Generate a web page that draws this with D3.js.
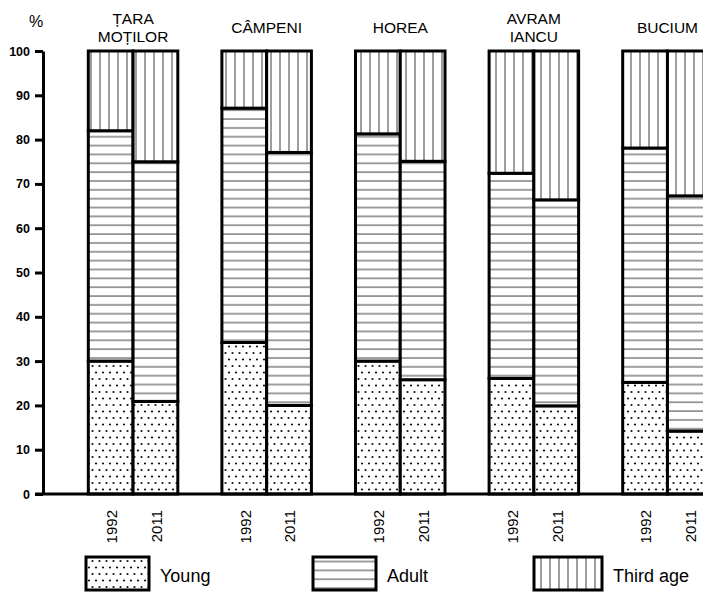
<!DOCTYPE html>
<html>
<head>
<meta charset="utf-8">
<script src="https://cdn.jsdelivr.net/npm/d3@7"></script>
<style>
  html, body { margin: 0; padding: 0; background: #fff; }
  svg { display: block; font-family: "Liberation Sans", Arial, sans-serif; }
</style>
</head>
<body>
<svg id="chart" width="703" height="592"></svg>
<script>
// ---- data ----
const categories = ["ȚARA MOȚILOR", "CÂMPENI", "HOREA", "AVRAM IANCU", "BUCIUM"];
const categoryLines = [["ȚARA", "MOȚILOR"], ["CÂMPENI"], ["HOREA"], ["AVRAM", "IANCU"], ["BUCIUM"]];
const years = ["1992", "2011"];
const young1992 = [30, 34.2, 30, 26.1, 25.2];
const adult1992 = [52, 52.9, 51.3, 46.3, 52.9];
const third1992 = [18, 12.9, 18.7, 27.6, 21.9];
const young2011 = [20.9, 20, 25.8, 19.9, 14.2];
const adult2011 = [54.1, 57.1, 49.3, 46.5, 53.1];
const third2011 = [25, 22.9, 24.9, 33.6, 32.7];
const groups = ["Young", "Adult", "Third age"];
const yTicks = [0, 10, 20, 30, 40, 50, 60, 70, 80, 90, 100];

// ---- build table ----
const rows = [];
categories.forEach((c, i) => {
  rows.push({cat: c, year: "1992", Young: young1992[i], Adult: adult1992[i], "Third age": third1992[i]});
  rows.push({cat: c, year: "2011", Young: young2011[i], Adult: adult2011[i], "Third age": third2011[i]});
});

const svg = d3.select("#chart");
const defs = svg.append("defs");

// patterns
const pDots = defs.append("pattern").attr("id", "pYoung").attr("patternUnits", "userSpaceOnUse")
  .attr("width", 7).attr("height", 13);
pDots.append("rect").attr("width", 7).attr("height", 13).attr("fill", "#fff");
pDots.append("circle").attr("cx", 1.5).attr("cy", 2).attr("r", 1.1).attr("fill", "#111");
pDots.append("circle").attr("cx", 5).attr("cy", 8.5).attr("r", 1.1).attr("fill", "#111");

const pH = defs.append("pattern").attr("id", "pAdult").attr("patternUnits", "userSpaceOnUse")
  .attr("width", 10).attr("height", 8.85);
pH.append("rect").attr("width", 10).attr("height", 8.85).attr("fill", "#fff");
pH.append("line").attr("x1", 0).attr("x2", 10).attr("y1", 4).attr("y2", 4)
  .attr("stroke", "#6a6a6a").attr("stroke-width", 1.3);

const pV = defs.append("pattern").attr("id", "pThird").attr("patternUnits", "userSpaceOnUse")
  .attr("width", 9).attr("height", 10);
pV.append("rect").attr("width", 9).attr("height", 10).attr("fill", "#fff");
pV.append("line").attr("y1", 0).attr("y2", 10).attr("x1", 1).attr("x2", 1)
  .attr("stroke", "#6a6a6a").attr("stroke-width", 1.3);

const fills = {"Young": "url(#pYoung)", "Adult": "url(#pAdult)", "Third age": "url(#pThird)"};

// scales
const x0 = d3.scaleBand().domain(categories).range([88.3, 88.3 + 133.6 * (5 - 0.33)])
  .paddingInner(0.33).paddingOuter(0);
const x1 = d3.scaleBand().domain(years).range([0, x0.bandwidth()]).padding(0);
const y = d3.scaleLinear().domain([0, 100]).range([494, 51]);

const stack = d3.stack().keys(groups);
const series = stack(rows);

// bars
const g = svg.append("g");
series.forEach(s => {
  g.selectAll(null).data(s).join("rect")
    .attr("x", d => x0(d.data.cat) + x1(d.data.year))
    .attr("y", d => y(d[1]))
    .attr("width", x1.bandwidth())
    .attr("height", d => y(d[0]) - y(d[1]))
    .attr("fill", fills[s.key])
    .attr("stroke", "#000")
    .attr("stroke-width", 3);
});

// baseline
svg.append("line").attr("x1", 35).attr("x2", 703).attr("y1", y(0)).attr("y2", y(0))
  .attr("stroke", "#000").attr("stroke-width", 3);

// y axis
const yAxis = d3.axisLeft(y).tickValues(yTicks).tickSize(8).tickSizeOuter(0).tickPadding(5);
const ag = svg.append("g").attr("transform", "translate(43,0)").call(yAxis);
ag.select(".domain").attr("stroke", "#000").attr("stroke-width", 3);
ag.selectAll(".tick line").attr("stroke", "#000").attr("stroke-width", 3);
ag.selectAll(".tick text").attr("font-size", 12.5).attr("font-weight", "bold")
  .attr("fill", "#000").attr("font-family", "Liberation Sans, Arial, sans-serif");

// % label
svg.append("text").attr("x", 36).attr("y", 27).attr("text-anchor", "middle")
  .attr("font-size", 16).attr("fill", "#000").text("%");

// category labels
categories.forEach((c, i) => {
  const lines = categoryLines[i];
  const cx = x0(c) + x0.bandwidth() / 2;
  const t = svg.append("text").attr("text-anchor", "middle").attr("font-size", 15.5).attr("fill", "#000");
  if (lines.length === 1) {
    t.append("tspan").attr("x", cx).attr("y", 33).text(lines[0]);
  } else {
    lines.forEach((l, j) => t.append("tspan").attr("x", cx).attr("y", 24 + j * 18).text(l));
  }
});

// year labels
rows.forEach(r => {
  const cx = x0(r.cat) + x1(r.year) + x1.bandwidth() / 2 + 1;
  svg.append("text")
    .attr("transform", `translate(${cx},510) rotate(-90)`)
    .attr("text-anchor", "end").attr("dy", "0.36em")
    .attr("font-size", 15).attr("fill", "#000").text(r.year);
});

// legend
const legendX = [86, 313, 534];
const legendW = [63, 63, 68];
groups.forEach((k, i) => {
  svg.append("rect").attr("x", legendX[i]).attr("y", 557).attr("width", legendW[i]).attr("height", 33)
    .attr("fill", fills[k]).attr("stroke", "#000").attr("stroke-width", 3);
  svg.append("text").attr("x", legendX[i] + legendW[i] + 11).attr("y", 582)
    .attr("font-size", 18).attr("fill", "#000").text(k);
});
</script>
</body>
</html>
